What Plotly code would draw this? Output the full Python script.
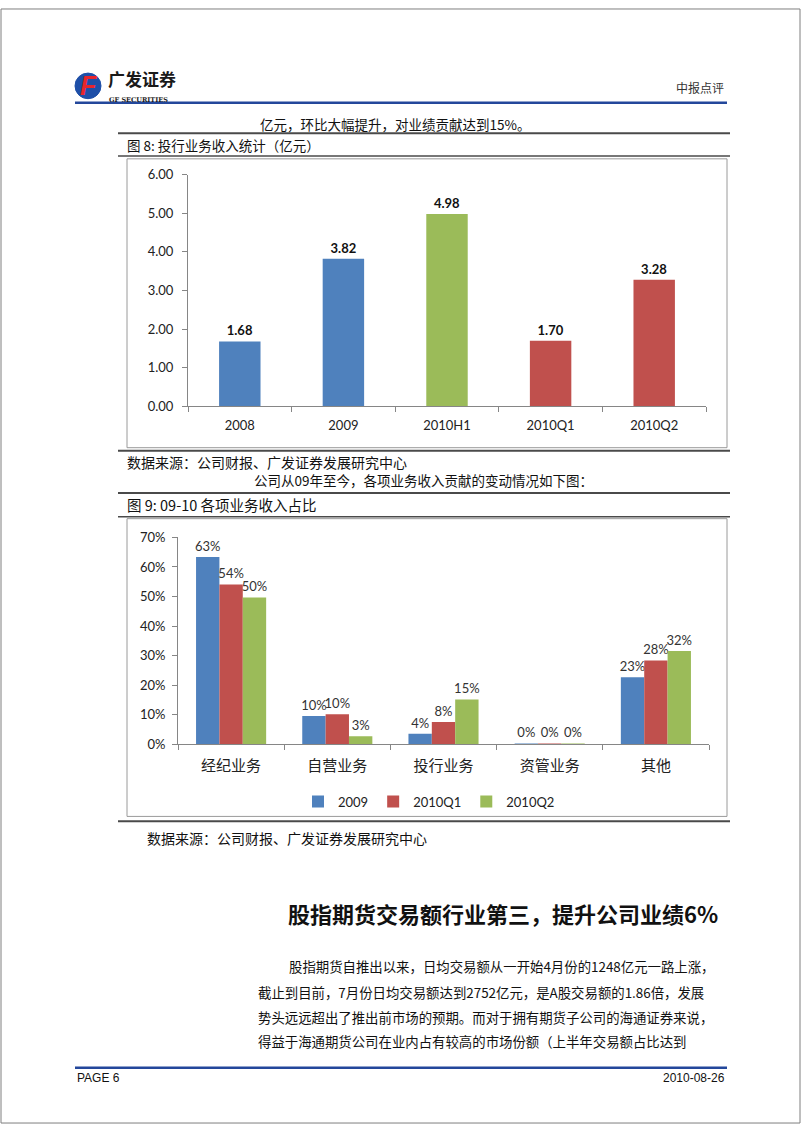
import plotly.graph_objects as go

W, H = 802, 1133


def X(x):
    return x / W


def Y(y):
    return 1 - y / H


# ---------------- data ----------------
# Figure 8: investment banking revenue (100m CNY)
cats1 = ["2008", "2009", "2010H1", "2010Q1", "2010Q2"]
vals1 = [1.68, 3.82, 4.98, 1.70, 3.28]
cols1 = ["#4F81BD", "#4F81BD", "#9BBB59", "#C0504D", "#C0504D"]

# Figure 9: revenue share by business line
cats2 = ["经纪业务", "自营业务", "投行业务", "资管业务", "其他"]
share_2009 = [0.634, 0.096, 0.036, 0.003, 0.227]
share_2010q1 = [0.541, 0.102, 0.076, 0.0005, 0.284]
share_2010q2 = [0.497, 0.028, 0.152, 0.003, 0.316]
series_names = ["2009", "2010Q1", "2010Q2"]
series_colors = ["#4F81BD", "#C0504D", "#9BBB59"]

# ---------------- fonts / colours ----------------
NUM = "Lato, Carlito, Liberation Sans, sans-serif"
CJK = "Noto Sans CJK SC, sans-serif"
BODY = "Liberation Sans Narrow, Arial Narrow, Noto Sans CJK SC, sans-serif"
AXC = "#868686"
RULE = "#4a4a4a"
BLUE = "#23479B"

fig = go.Figure()

fig.add_trace(go.Bar(
    x=cats1, y=vals1, marker=dict(color=cols1, line=dict(width=0)), width=0.4,
    xaxis="x", yaxis="y",
    texttemplate="<b>%{y:.2f}</b>", textposition="outside", constraintext="none",
    textfont=dict(family=NUM, size=13, color="#111111"),
    cliponaxis=False, showlegend=False, hoverinfo="skip",
))

for name, vals, col in zip(series_names, [share_2009, share_2010q1, share_2010q2], series_colors):
    fig.add_trace(go.Bar(
        x=cats2, y=vals, name=name, marker=dict(color=col, line=dict(width=0)),
        xaxis="x2", yaxis="y2",
        texttemplate="%{y:.0%}", textposition="outside", constraintext="none",
        textfont=dict(family=NUM, size=13, color="#333333"),
        cliponaxis=False, hoverinfo="skip",
    ))

axis_common = dict(showline=True, linecolor=AXC, linewidth=1, ticks="outside", ticklen=5,
                   tickcolor=AXC, showgrid=False, zeroline=False, fixedrange=True)

fig.update_layout(
    width=W, height=H, margin=dict(l=0, r=0, t=0, b=0),
    paper_bgcolor="white", plot_bgcolor="rgba(0,0,0,0)",
    barmode="group", bargap=0.34, bargroupgap=0,
    xaxis=dict(domain=[X(188), X(706)], anchor="y", type="category", tickson="boundaries",
               ticklabelstandoff=7,
               tickfont=dict(family=NUM, size=13, color="#222222"), **axis_common),
    yaxis=dict(domain=[Y(404), Y(169)], anchor="x", range=[0, 6], dtick=1, tickformat=".2f",
               ticklabelstandoff=6,
               tickfont=dict(family=NUM, size=13, color="#222222"), **axis_common),
    xaxis2=dict(domain=[X(178), X(709)], anchor="y2", type="category", tickson="boundaries",
                ticklabelstandoff=8,
                tickfont=dict(family=CJK, size=15, color="#222222"), **axis_common),
    yaxis2=dict(domain=[Y(747), Y(537)], anchor="x2", range=[0, 0.7], dtick=0.1, tickformat=".0%",
                ticklabelstandoff=4,
                tickfont=dict(family=NUM, size=13, color="#222222"), **axis_common),
    legend=dict(orientation="h", x=X(429), xanchor="center", y=Y(805), yanchor="middle",
                font=dict(family=NUM, size=13, color="#222222"), itemwidth=30,
                bgcolor="rgba(0,0,0,0)", traceorder="normal"),
    showlegend=True,
)

shapes = []


def hline(y, x0, x1, color, width):
    shapes.append(dict(type="line", xref="paper", yref="paper", x0=X(x0), x1=X(x1), y0=Y(y), y1=Y(y),
                       line=dict(color=color, width=width)))


def rect(x0, y0, x1, y1, color, width, fill="rgba(0,0,0,0)"):
    shapes.append(dict(type="rect", xref="paper", yref="paper", x0=X(x0), x1=X(x1), y0=Y(y1), y1=Y(y0),
                       line=dict(color=color, width=width), fillcolor=fill, layer="below"))


# page frame
rect(1, 1, 800, 1131, "#7f7f7f", 1)
# header / footer rules
hline(96, 75, 727, BLUE, 2.5)
hline(1075, 75, 727, BLUE, 2.5)
# figure 8 table rules
hline(127, 118, 730, RULE, 2)
hline(150, 118, 730, RULE, 1.5)
rect(127, 153, 727, 446, "#9a9a9a", 1)
hline(449, 118, 730, RULE, 2)
# figure 9 table rules
hline(492, 118, 730, RULE, 2)
hline(516, 118, 730, RULE, 1.5)
rect(127, 518, 727, 820, "#9a9a9a", 1)
hline(825, 118, 730, RULE, 2)
# logo circle
shapes.append(dict(type="circle", xref="paper", yref="paper", x0=X(75), x1=X(101), y0=Y(92), y1=Y(66),
                   fillcolor="#1E4FA8", line=dict(color="#1E4FA8", width=1)))
fig.update_layout(shapes=shapes)

anns = []


def txt(x, y, s, size, family=CJK, color="#111111", anchor="left", yanchor="middle"):
    anns.append(dict(text=s, x=X(x), y=Y(y), xref="paper", yref="paper", xanchor=anchor, yanchor=yanchor,
                     showarrow=False, font=dict(family=family, size=size, color=color)))


# logo
anns.append(dict(text="<b><i>F</i></b>", x=X(89), y=Y(79), xref="paper", yref="paper", xanchor="center",
                 yanchor="middle", showarrow=False,
                 font=dict(family="Liberation Sans, sans-serif", size=27, color="#E8262C")))
txt(106, 86, "<b>广发证券</b>", 17, CJK, "#1a1a1a", yanchor="bottom")
txt(107, 87, "<b>GF SECURITIES</b>", 6.5, "DejaVu Serif, serif", "#1a1a1a", yanchor="top")
txt(726, 81, "中报点评", 12, CJK, "#333333", "right")

txt(258, 118, "亿元，环比大幅提升，对业绩贡献达到15%。", 13.5, BODY)
txt(125, 139, "图 8: 投行业务收入统计（亿元）", 13.5, BODY)
txt(125, 460, "数据来源：公司财报、广发证券发展研究中心", 14, BODY)
txt(252, 479, "公司从09年至今，各项业务收入贡献的变动情况如下图：", 13.5, BODY)
txt(125, 504, "图 9: 09-10 各项业务收入占比", 14.5, BODY)
txt(145, 842, "数据来源：公司财报、广发证券发展研究中心", 14, BODY)

txt(720, 918, "<b>股指期货交易额行业第三，提升公司业绩6%</b>", 22, CJK, "#111111", "right")

txt(287, 972, "股指期货自推出以来，日均交易额从一开始4月份的1248亿元一路上涨，", 13.4, BODY)
txt(256, 998, "截止到目前，7月份日均交易额达到2752亿元，是A股交易额的1.86倍，发展", 13.4, BODY)
txt(256, 1023, "势头远远超出了推出前市场的预期。而对于拥有期货子公司的海通证券来说，", 13.4, BODY)
txt(256, 1048, "得益于海通期货公司在业内占有较高的市场份额（上半年交易额占比达到", 13.4, BODY)

txt(75, 1085, "PAGE 6", 12, "Liberation Sans, Arial, sans-serif", "#111111")
txt(727, 1085, "2010-08-26", 12, "Liberation Sans, Arial, sans-serif", "#111111", "right")

fig.update_layout(annotations=anns)

fig.write_html("out.html")
